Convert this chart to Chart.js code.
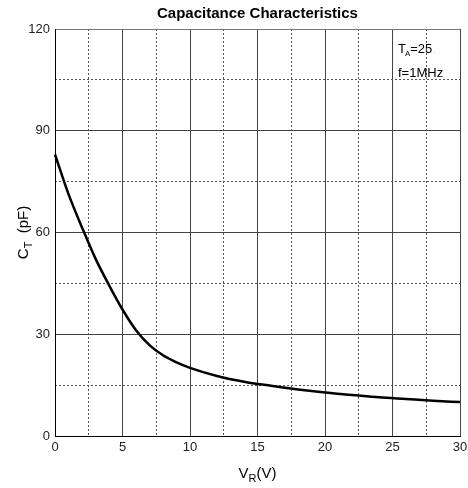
<!DOCTYPE html>
<html>
<head>
<meta charset="utf-8">
<script src="https://cdn.jsdelivr.net/npm/chart.js@4"></script>
<style>
  html, body { margin: 0; padding: 0; background: #fff; }
  #wrap { width: 468px; height: 488px; }
</style>
</head>
<body>
<div id="wrap"><canvas id="capChart" width="468" height="488"></canvas></div>
<script>
// values
const reverseVoltage = [0, 1, 2, 3, 4, 5, 6, 7, 8, 9, 10, 12, 14, 16, 18, 20, 22, 24, 26, 28, 30];
const capacitance = [83, 71.3, 61.5, 52.3, 44.5, 37.3, 31.2, 26.8, 23.8, 21.7, 20.1, 17.7, 16, 14.8, 13.7, 12.8, 12.1, 11.4, 10.9, 10.4, 10.0];
const xTickLabels = ["0", "5", "10", "15", "20", "25", "30"];
const yTickLabels = ["0", "30", "60", "90", "120"];

const FONT = "Arial, 'Liberation Sans', sans-serif";

const textPlugin = {
  id: "textPlugin",
  afterDraw(chart) {
    const { ctx, chartArea } = chart;
    const cx = (chartArea.left + chartArea.right) / 2;
    ctx.save();
    ctx.fillStyle = "#000";
    // title
    ctx.font = "bold 15px " + FONT;
    ctx.textAlign = "center";
    ctx.textBaseline = "middle";
    ctx.fillText("Capacitance Characteristics", cx, 14);

    // x axis title V_R(V)
    ctx.font = "15px " + FONT;
    ctx.textAlign = "left";
    ctx.textBaseline = "alphabetic";
    const wV = ctx.measureText("V").width;
    const wRest = ctx.measureText("(V)").width;
    ctx.font = "11px " + FONT;
    const wR = ctx.measureText("R").width;
    let x0 = cx - (wV + wR + wRest) / 2;
    const by = 478;
    ctx.font = "15px " + FONT;
    ctx.fillText("V", x0, by);
    ctx.font = "11px " + FONT;
    ctx.fillText("R", x0 + wV, by + 4);
    ctx.font = "15px " + FONT;
    ctx.fillText("(V)", x0 + wV + wR, by);

    // y axis title C_T (pF)
    const cy = (chartArea.top + chartArea.bottom) / 2;
    ctx.translate(23, cy);
    ctx.rotate(-Math.PI / 2);
    ctx.font = "15px " + FONT;
    const wC = ctx.measureText("C").width;
    const wP = ctx.measureText("  (pF)").width;
    ctx.font = "11px " + FONT;
    const wT = ctx.measureText("T").width;
    x0 = -(wC + wT + wP) / 2;
    ctx.font = "15px " + FONT;
    ctx.fillText("C", x0, 5);
    ctx.font = "11px " + FONT;
    ctx.fillText("T", x0 + wC, 9);
    ctx.font = "15px " + FONT;
    ctx.fillText("  (pF)", x0 + wC + wT, 5);
    ctx.restore();

    // conditions note
    ctx.save();
    ctx.fillStyle = "#000";
    ctx.textBaseline = "alphabetic";
    ctx.font = "13px " + FONT;
    const nx = 398;
    ctx.fillText("T", nx, 53);
    const wTT = ctx.measureText("T").width;
    ctx.font = "8px " + FONT;
    ctx.fillText("A", nx + wTT - 1, 56);
    const wA = ctx.measureText("A").width;
    ctx.font = "13px " + FONT;
    ctx.fillText("=25", nx + wTT + wA - 1, 53);
    const w25 = ctx.measureText("=25").width;
    ctx.font = "7px " + FONT;
    ctx.fillStyle = "#999";
    ctx.fillText(".", nx + wTT + wA + w25, 53);
    ctx.fillStyle = "#000";
    ctx.font = "13px " + FONT;
    ctx.fillText("f=1MHz", nx, 77);
    ctx.restore();
  }
};

const ctx = document.getElementById("capChart");
new Chart(ctx, {
  type: "line",
  data: {
    labels: reverseVoltage,
    datasets: [
      {
        label: "CT",
        data: reverseVoltage.map((v, i) => ({ x: v, y: capacitance[i] })),
        borderColor: "#000",
        borderWidth: 2.5,
        pointRadius: 0,
        fill: false,
        cubicInterpolationMode: "monotone",
        clip: false
      }
    ]
  },
  options: {
    responsive: false,
    animation: false,
    devicePixelRatio: 1,
    layout: { padding: { top: 29, right: 0, left: 0, bottom: 0 } },
    plugins: {
      legend: { display: false },
      title: { display: false },
      tooltip: { enabled: false }
    },
    scales: {
      x: {
        type: "linear",
        min: 0,
        max: 30,
        ticks: {
          stepSize: 5,
          padding: 4,
          color: "#222",
          font: { family: FONT, size: 13 },
          callback: (v) => (xTickLabels.includes(String(v)) ? String(v) : "")
        },
        grid: { color: "#444", lineWidth: 1, drawTicks: false },
        border: { display: true, color: "#000", width: 1 },
        afterFit(scale) {
          scale.height = 52;
          scale.paddingRight = 8;
        }
      },
      xMinor: {
        type: "linear",
        position: "bottom",
        min: 0,
        max: 30,
        ticks: { stepSize: 2.5, display: false },
        grid: {
          drawTicks: false,
          lineWidth: 1,
          color: (c) => (c.tick && c.tick.value % 5 !== 0 ? "#555" : "rgba(0,0,0,0)")
        },
        border: { display: false, dash: [2, 2] },
        afterFit(scale) { scale.height = 0; }
      },
      y: {
        type: "linear",
        min: 0,
        max: 120,
        ticks: {
          stepSize: 30,
          padding: 5,
          color: "#222",
          font: { family: FONT, size: 13 },
          callback: (v) => (yTickLabels.includes(String(v)) ? String(v) : "")
        },
        grid: {
          lineWidth: 1,
          drawTicks: false,
          color: (c) => (c.tick && c.tick.value === 120 ? "#777" : "#444")
        },
        border: { display: true, color: "#000", width: 1 },
        afterFit(scale) { scale.width = 55; }
      },
      yMinor: {
        type: "linear",
        position: "left",
        min: 0,
        max: 120,
        ticks: { stepSize: 15, display: false },
        grid: {
          drawTicks: false,
          lineWidth: 1,
          color: (c) => (c.tick && c.tick.value % 30 !== 0 ? "#555" : "rgba(0,0,0,0)")
        },
        border: { display: false, dash: [2, 2] },
        afterFit(scale) { scale.width = 0; }
      }
    }
  },
  plugins: [textPlugin]
});
</script>
</body>
</html>
